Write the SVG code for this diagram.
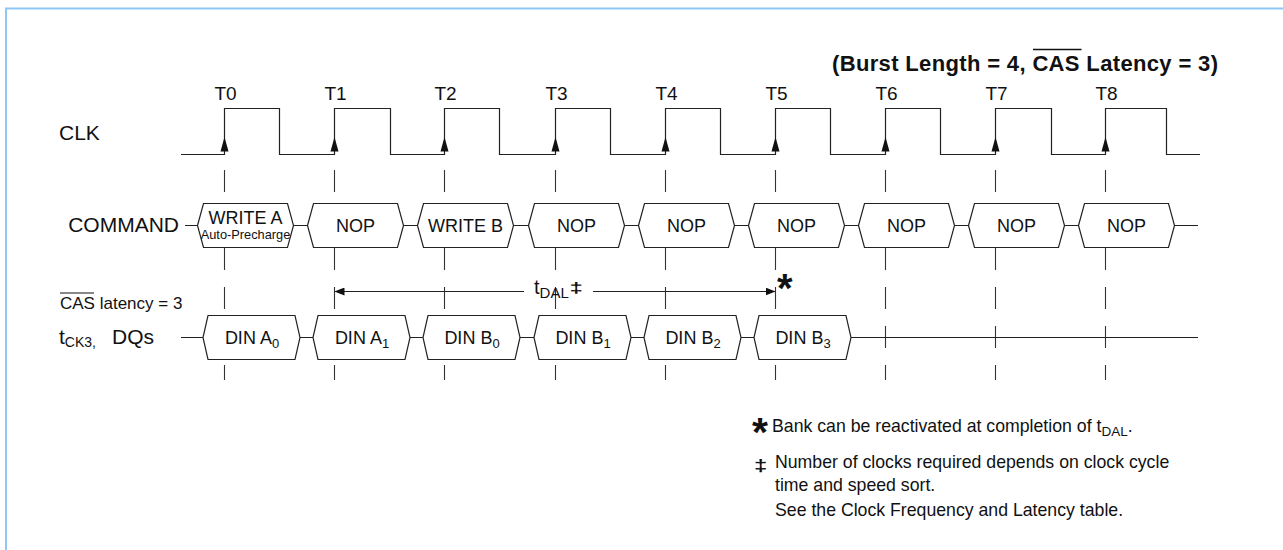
<svg xmlns="http://www.w3.org/2000/svg" width="1283" height="550" viewBox="0 0 1283 550">
<defs>
<style>
text{font-family:"Liberation Sans",Arial,sans-serif;fill:#111}
.ln{stroke:#222;stroke-width:1.2;fill:none}
.guide{stroke:#333;stroke-width:1.1;stroke-dasharray:22 17}
.box{stroke:#222;stroke-width:1.2;fill:#fff}
.bt{font-size:18px;text-anchor:middle}
.tl{font-size:19px;text-anchor:middle}
.lbl{font-size:21px}
.note{font-size:17.7px}
</style>
<marker id="ah" viewBox="0 0 10 8" refX="9.5" refY="4" markerWidth="10" markerHeight="8" markerUnits="userSpaceOnUse" orient="auto-start-reverse">
<path d="M0,0 L10,4 L0,8 z" fill="#111"/>
</marker>
</defs>
<rect x="6" y="8.5" width="1400" height="700" fill="#fff" stroke="#8fc6f5" stroke-width="2"/>

<g id="labels">
<text x="832" y="71" font-size="22" font-weight="bold" textLength="386" lengthAdjust="spacing">(Burst Length = 4, CAS Latency = 3)</text>
<line x1="1033" y1="49.5" x2="1081.5" y2="49.5" stroke="#111" stroke-width="1.6"/>
<text class="lbl" x="59" y="140">CLK</text>
<text class="lbl" x="179" y="232" text-anchor="end">COMMAND</text>
<text x="60" y="309" font-size="17">CAS latency = 3</text>
<line x1="60" y1="293" x2="94" y2="293" stroke="#111" stroke-width="1"/>
<text x="59" y="344" font-size="21">t<tspan font-size="14" dy="3">CK3,</tspan><tspan x="112" dy="-3">DQs</tspan></text>
<text class="tl" x="225.5" y="100">T0</text>
<text class="tl" x="335.5" y="100">T1</text>
<text class="tl" x="445.5" y="100">T2</text>
<text class="tl" x="556.5" y="100">T3</text>
<text class="tl" x="666.5" y="100">T4</text>
<text class="tl" x="776.5" y="100">T5</text>
<text class="tl" x="886.5" y="100">T6</text>
<text class="tl" x="996.5" y="100">T7</text>
<text class="tl" x="1106.5" y="100">T8</text>
</g>

<g id="clock">
<path class="ln" d="M181,154.5 H224.5 V108.5 H279.5 V154.5 H334.5 V108.5 H390.5 V154.5 H444.5 V108.5 H499.5 V154.5 H555.5 V108.5 H610.5 V154.5 H665.5 V108.5 H720.5 V154.5 H775.5 V108.5 H830.5 V154.5 H885.5 V108.5 H940.5 V154.5 H995.5 V108.5 H1051.5 V154.5 H1105.5 V108.5 H1166.5 V154.5 H1200"/>
<g fill="#111">
<polygon points="224.5,137 220.5,151.5 228.5,151.5"/>
<polygon points="334.5,137 330.5,151.5 338.5,151.5"/>
<polygon points="444.5,137 440.5,151.5 448.5,151.5"/>
<polygon points="555.5,137 551.5,151.5 559.5,151.5"/>
<polygon points="665.5,137 661.5,151.5 669.5,151.5"/>
<polygon points="775.5,137 771.5,151.5 779.5,151.5"/>
<polygon points="885.5,137 881.5,151.5 889.5,151.5"/>
<polygon points="995.5,137 991.5,151.5 999.5,151.5"/>
<polygon points="1105.5,137 1101.5,151.5 1109.5,151.5"/>
</g>
</g>

<g id="connectors">
<line class="guide" x1="224.5" y1="170" x2="224.5" y2="380"/>
<line class="guide" x1="334.5" y1="170" x2="334.5" y2="380"/>
<line class="guide" x1="444.5" y1="170" x2="444.5" y2="380"/>
<line class="guide" x1="555.5" y1="170" x2="555.5" y2="380"/>
<line class="guide" x1="665.5" y1="170" x2="665.5" y2="380"/>
<line class="guide" x1="775.5" y1="170" x2="775.5" y2="380"/>
<line class="guide" x1="885.5" y1="170" x2="885.5" y2="380"/>
<line class="guide" x1="995.5" y1="170" x2="995.5" y2="380"/>
<line class="guide" x1="1105.5" y1="170" x2="1105.5" y2="380"/>
<path class="ln" d="M185,225.5 H198 M293.5,225.5 H307.5 M403.5,225.5 H417.5 M513.5,225.5 H528.5 M624.5,225.5 H638.5 M734.5,225.5 H748.5 M844.5,225.5 H858.5 M954.5,225.5 H968.5 M1064.5,225.5 H1078.5 M1174.5,225.5 H1198"/>
<path class="ln" d="M181,337.5 H203 M300,337.5 H313 M410,337.5 H423 M520,337.5 H534 M631,337.5 H644 M741,337.5 H754 M851,337.5 H1198"/>
<line class="ln" x1="524" y1="291.5" x2="335" y2="291.5" marker-end="url(#ah)"/>
<line class="ln" x1="593" y1="291.5" x2="775" y2="291.5" marker-end="url(#ah)"/>
<text x="534" y="294" font-size="20">t<tspan font-size="15" dy="4">DAL</tspan></text>
<text transform="translate(569.5,293) scale(1.6,1)" font-size="15" font-weight="bold">‡</text>
<text x="777" y="302" font-size="40" font-weight="bold">*</text>
</g>

<g id="cmd-t0"><path class="box" d="M197.5,225.5 L203.5,203.5 H287.5 L293.5,225.5 L287.5,247.5 H203.5 Z"/><text class="bt" x="245.5" y="223.5">WRITE A</text><text x="245.5" y="238.5" font-size="12.8" text-anchor="middle">Auto-Precharge</text></g>
<g id="cmd-t1"><path class="box" d="M307.5,225.5 L313.5,203.5 H397.5 L403.5,225.5 L397.5,247.5 H313.5 Z"/><text class="bt" x="355.5" y="231.5">NOP</text></g>
<g id="cmd-t2"><path class="box" d="M417.5,225.5 L423.5,203.5 H507.5 L513.5,225.5 L507.5,247.5 H423.5 Z"/><text class="bt" x="465.5" y="231.5">WRITE B</text></g>
<g id="cmd-t3"><path class="box" d="M528.5,225.5 L534.5,203.5 H618.5 L624.5,225.5 L618.5,247.5 H534.5 Z"/><text class="bt" x="576.5" y="231.5">NOP</text></g>
<g id="cmd-t4"><path class="box" d="M638.5,225.5 L644.5,203.5 H728.5 L734.5,225.5 L728.5,247.5 H644.5 Z"/><text class="bt" x="686.5" y="231.5">NOP</text></g>
<g id="cmd-t5"><path class="box" d="M748.5,225.5 L754.5,203.5 H838.5 L844.5,225.5 L838.5,247.5 H754.5 Z"/><text class="bt" x="796.5" y="231.5">NOP</text></g>
<g id="cmd-t6"><path class="box" d="M858.5,225.5 L864.5,203.5 H948.5 L954.5,225.5 L948.5,247.5 H864.5 Z"/><text class="bt" x="906.5" y="231.5">NOP</text></g>
<g id="cmd-t7"><path class="box" d="M968.5,225.5 L974.5,203.5 H1058.5 L1064.5,225.5 L1058.5,247.5 H974.5 Z"/><text class="bt" x="1016.5" y="231.5">NOP</text></g>
<g id="cmd-t8"><path class="box" d="M1078.5,225.5 L1084.5,203.5 H1168.5 L1174.5,225.5 L1168.5,247.5 H1084.5 Z"/><text class="bt" x="1126.5" y="231.5">NOP</text></g>

<g id="dq-a0"><path class="box" d="M203,337.5 L208,315.5 H295 L300,337.5 L295,359.5 H208 Z"/><text class="bt" x="252" y="343.5">DIN A<tspan font-size="13" dy="4">0</tspan></text></g>
<g id="dq-a1"><path class="box" d="M313,337.5 L318,315.5 H405 L410,337.5 L405,359.5 H318 Z"/><text class="bt" x="362" y="343.5">DIN A<tspan font-size="13" dy="4">1</tspan></text></g>
<g id="dq-b0"><path class="box" d="M423,337.5 L428,315.5 H515 L520,337.5 L515,359.5 H428 Z"/><text class="bt" x="472" y="343.5">DIN B<tspan font-size="13" dy="4">0</tspan></text></g>
<g id="dq-b1"><path class="box" d="M534,337.5 L539,315.5 H626 L631,337.5 L626,359.5 H539 Z"/><text class="bt" x="583" y="343.5">DIN B<tspan font-size="13" dy="4">1</tspan></text></g>
<g id="dq-b2"><path class="box" d="M644,337.5 L649,315.5 H736 L741,337.5 L736,359.5 H649 Z"/><text class="bt" x="693" y="343.5">DIN B<tspan font-size="13" dy="4">2</tspan></text></g>
<g id="dq-b3"><path class="box" d="M754,337.5 L759,315.5 H846 L851,337.5 L846,359.5 H759 Z"/><text class="bt" x="803" y="343.5">DIN B<tspan font-size="13" dy="4">3</tspan></text></g>

<g id="notes">
<text x="752" y="446" font-size="41" font-weight="bold">*</text>
<text class="note" x="772" y="432">Bank can be reactivated at completion of t<tspan font-size="13.5" dy="4">DAL</tspan><tspan dy="-4">.</tspan></text>
<text transform="translate(754,471) scale(1.5,1)" font-size="16" font-weight="bold">‡</text>
<text class="note" x="775" y="468">Number of clocks required depends on clock cycle</text>
<text class="note" x="775" y="490.5">time and speed sort.</text>
<text class="note" x="775" y="516">See the Clock Frequency and Latency table.</text>
</g>
</svg>
